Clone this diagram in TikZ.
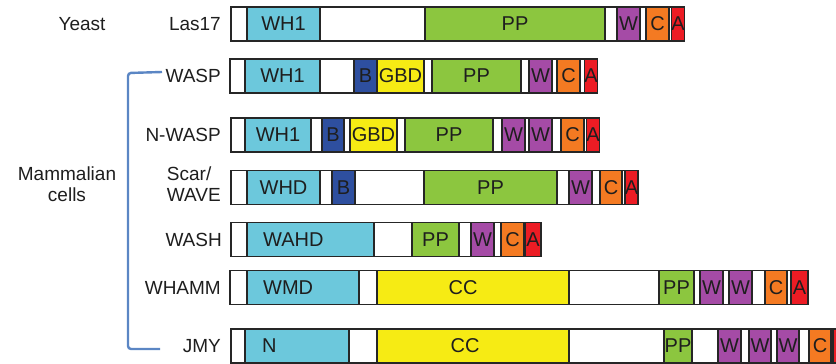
\documentclass[tikz,border=0pt]{standalone}
\usepackage{fontspec}
\setmainfont{Liberation Sans}
\definecolor{cy}{HTML}{6CC8DC}
\definecolor{gr}{HTML}{8CC63F}
\definecolor{pu}{HTML}{A54BA6}
\definecolor{og}{HTML}{F47A22}
\definecolor{rd}{HTML}{EC1C24}
\definecolor{yl}{HTML}{F6EB14}
\definecolor{bl}{HTML}{2E4F9F}
\definecolor{edge}{HTML}{262626}
\definecolor{txtc}{HTML}{1E1E1E}
\definecolor{brk}{HTML}{5B86C4}
\newcommand\rowy{24}
\newcommand\dom[5]{\pgfmathsetmacro\domw{#3-#2}\pgfmathsetmacro\domc{(#2+#3)/2}%
  \node[dombox,fill=#4,minimum width=\domw pt] (#1) at (\domc,\rowy) {#5};}
\begin{document}
\begin{tikzpicture}[x=1pt,y=-1pt,
  dombox/.style={draw=edge,line width=1.4pt,rectangle,inner sep=0pt,minimum height=34pt,
    text=txtc,font=\fontsize{20}{22}\selectfont},
  txt/.style={inner sep=0pt,text=txtc,font=\fontsize{20}{22}\selectfont},
  side/.style={inner sep=0pt,text=txtc,font=\fontsize{19}{21}\selectfont},
  lbl/.style={side,anchor=east},
  bracket/.style={draw=brk,line width=2.4pt,rounded corners=3pt}]
\useasboundingbox (0,0) rectangle (836,364);
\clip (0,0) rectangle (836,364);
% labels
\node[side] (yeast) at (82,24) {Yeast};
\node[side,align=center] (mamm) at (67,184) {Mammalian\\cells};
% Row 1: Las17
\renewcommand\rowy{24}
\node[lbl] (l-las17) at (221,24) {Las17};
\dom{las17}{231}{684}{white}{}
\dom{las17-wh1}{247}{320}{cy}{WH1}
\dom{las17-pp}{425}{605}{gr}{PP}
\dom{las17-w}{617}{640}{pu}{W}
\dom{las17-c}{646}{669}{og}{C}
\dom{las17-a}{672}{684}{rd}{A}
% Row 2: WASP
\renewcommand\rowy{76}
\node[lbl] (l-wasp) at (221,76) {WASP};
\dom{wasp}{230}{597}{white}{}
\dom{wasp-wh1}{245}{320}{cy}{WH1}
\dom{wasp-b}{354}{377}{bl}{B}
\dom{wasp-gbd}{377}{424}{yl}{GBD}
\dom{wasp-pp}{432}{521}{gr}{PP}
\dom{wasp-w}{529}{552}{pu}{W}
\dom{wasp-c}{557}{580}{og}{C}
\dom{wasp-a}{585}{597}{rd}{A}
% Row 3: N-WASP
\renewcommand\rowy{135}
\node[lbl] (l-nwasp) at (221,135) {N-WASP};
\dom{nwasp}{231}{599}{white}{}
\dom{nwasp-wh1}{245}{311}{cy}{WH1}
\dom{nwasp-b}{322}{344}{bl}{B}
\dom{nwasp-gbd}{350}{397}{yl}{GBD}
\dom{nwasp-pp}{405}{493}{gr}{PP}
\dom{nwasp-w1}{502}{525}{pu}{W}
\dom{nwasp-w2}{529}{552}{pu}{W}
\dom{nwasp-c}{561}{584}{og}{C}
\dom{nwasp-a}{587}{599}{rd}{A}
% Row 4: Scar/WAVE
\renewcommand\rowy{187.5}
\node[lbl,align=left] (l-scar) at (221,184) {Scar/\\WAVE};
\dom{scar}{231}{638}{white}{}
\dom{scar-whd}{247}{320}{cy}{WHD}
\dom{scar-b}{332}{355}{bl}{B}
\dom{scar-pp}{424}{557}{gr}{PP}
\dom{scar-w}{569}{592}{pu}{W}
\dom{scar-c}{600}{622}{og}{C}
\dom{scar-a}{625}{638}{rd}{A}
% Row 5: WASH
\renewcommand\rowy{239.5}
\node[lbl] (l-wash) at (222,239.5) {WASH};
\dom{wash}{231}{541}{white}{}
\dom{wash-wahd}{247}{374}{cy}{}
\node[txt,anchor=west] (wash-wahd-t) at (263,239.5) {WAHD};
\dom{wash-pp}{412}{459}{gr}{PP}
\dom{wash-w}{471}{494}{pu}{W}
\dom{wash-c}{501}{524}{og}{C}
\dom{wash-a}{525}{541}{rd}{A}
% Row 6: WHAMM
\renewcommand\rowy{287.5}
\node[lbl] (l-whamm) at (221,287.5) {WHAMM};
\dom{whamm}{230}{808}{white}{}
\dom{whamm-wmd}{247}{359}{cy}{}
\node[txt,anchor=west] (whamm-wmd-t) at (263,287.5) {WMD};
\dom{whamm-cc}{377}{569}{yl}{}
\node[txt] (whamm-cc-t) at (463,287.5) {CC};
\dom{whamm-pp}{659}{694}{gr}{PP}
\dom{whamm-w1}{700}{723}{pu}{W}
\dom{whamm-w2}{729}{752}{pu}{W}
\dom{whamm-c}{765}{787}{og}{C}
\dom{whamm-a}{791}{808}{rd}{A}
% Row 7: JMY
\renewcommand\rowy{346}
\node[lbl] (l-jmy) at (221,346) {JMY};
\dom{jmy}{231}{860}{white}{}
\dom{jmy-n}{245}{349}{cy}{}
\node[txt,anchor=west] (jmy-n-t) at (262,346) {N};
\dom{jmy-cc}{377}{569}{yl}{}
\node[txt] (jmy-cc-t) at (465,346) {CC};
\dom{jmy-pp}{664}{692}{gr}{PP}
\dom{jmy-w1}{718}{741}{pu}{W}
\dom{jmy-w2}{749}{771}{pu}{W}
\dom{jmy-w3}{777}{799}{pu}{W}
\dom{jmy-c}{809}{831}{og}{C}
\dom{jmy-a}{833}{850}{rd}{}
% bracket
\coordinate (bt) at (162,72);
\coordinate (bb) at (160,349);
\draw[bracket] (bt) -- (128,73) -- (128,349) -- (bb);
\end{tikzpicture}
\end{document}
